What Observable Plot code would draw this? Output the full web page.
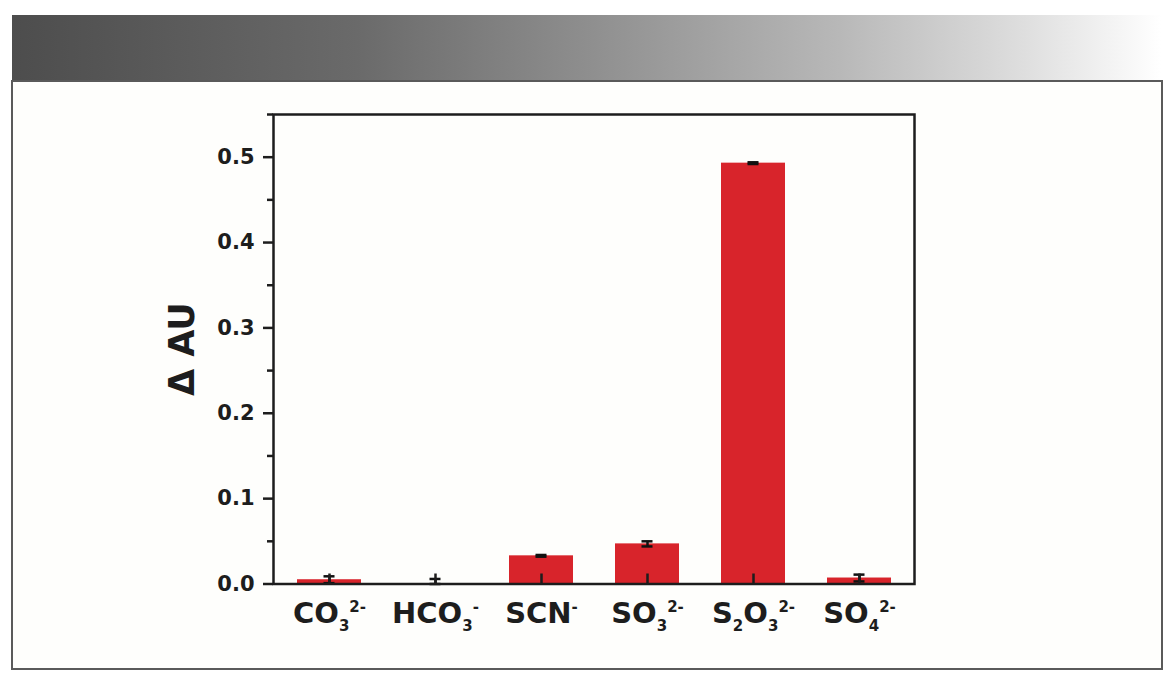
<!DOCTYPE html>
<html>
<head>
<meta charset="utf-8">
<script src="https://cdn.jsdelivr.net/npm/d3@7"></script>
<script src="https://cdn.jsdelivr.net/npm/@observablehq/plot@0.6"></script>
<style>
  html, body { margin: 0; padding: 0; background: #ffffff; }
  #page { position: relative; width: 1168px; height: 682px; overflow: hidden; background: #ffffff; }
  #header {
    position: absolute; left: 12px; top: 15px; width: 1149px; height: 65px;
    background: linear-gradient(to right, #4d4d4d 0%, #6a6a6a 30%, #8e8e8e 50%, #b8b8b8 72%, #dedede 88%, #ffffff 100%);
  }
  #box {
    position: absolute; left: 11px; top: 80px; width: 1148px; height: 586px;
    border: 2px solid #5a5a5a; background: #fefefc;
  }
  #chart { position: absolute; left: 0; top: 0; }
</style>
</head>
<body>
<div id="page">
  <div id="header"></div>
  <div id="box"></div>
  <div id="chart"></div>
</div>
<script>
// ---- Data ----
const categories = ["CO_3^2-", "HCO_3^-", "SCN^-", "SO_3^2-", "S_2O_3^2-", "SO_4^2-"];
const values = [0.005, 0.0004, 0.033, 0.047, 0.493, 0.007];
const errors = [0.004, 0.0055, 0.001, 0.003, 0.001, 0.004];
const majorTicks = [0.0, 0.1, 0.2, 0.3, 0.4, 0.5];
const minorTicks = [0.05, 0.15, 0.25, 0.35, 0.45, 0.55];
const yLabel = "Δ AU";

const data = categories.map((c, i) => ({ion: c, value: values[i], err: errors[i]}));

const ink = "#1d1d1d";
const font = "'DejaVu Sans', sans-serif";

const W = 1168, H = 682;
const mL = 273, mR = 254, mT = 114, mB = 98.5;
const frameH = H - mT - mB;

const chart = Plot.plot({
  width: W,
  height: H,
  marginLeft: mL,
  marginRight: mR,
  marginTop: mT,
  marginBottom: mB,
  style: {background: "transparent", fontFamily: font, fontWeight: "bold", color: ink, overflow: "visible"},
  x: {type: "band", domain: categories, padding: 0, axis: null},
  y: {domain: [0, 0.55], axis: null},
  marks: [
    Plot.barY(data, {x: "ion", y: "value", fill: "#d8242b", insetLeft: 21, insetRight: 21}),
    Plot.ruleX(data, {x: "ion", y1: d => Math.max(0, d.value - d.err), y2: d => d.value + d.err, stroke: "#111", strokeWidth: 2.5}),
    Plot.tickY(data, {x: "ion", y: d => d.value + d.err, stroke: "#111", strokeWidth: 2.5, insetLeft: 47.5, insetRight: 47.5}),
    Plot.tickY(data, {x: "ion", y: d => Math.max(0, d.value - d.err), stroke: "#111", strokeWidth: 2.5, insetLeft: 47.5, insetRight: 47.5}),
    Plot.tickX(categories, {x: d => d, stroke: ink, strokeWidth: 2.5, insetTop: frameH - 10}),
    Plot.axisY({ticks: majorTicks, tickSize: 10, tickPadding: 9, tickFormat: d3.format(".1f"), fontSize: 21, fontWeight: "bold", stroke: ink, strokeWidth: 2.5, fill: ink, label: null}),
    Plot.axisY({ticks: minorTicks, tickSize: 6, tickFormat: () => "", stroke: ink, strokeWidth: 2.5, label: null}),
    Plot.axisX({tickSize: 0, tickPadding: 18, fontSize: 29, fontWeight: "bold", fill: ink, label: null, tickFormat: d => d}),
    Plot.frame({stroke: ink, strokeWidth: 2.5}),
    Plot.text([yLabel], {frameAnchor: "left", textAnchor: "middle", dx: -91, rotate: -90, fontSize: 35, fontWeight: "bold", fill: ink})
  ]
});
document.getElementById("chart").appendChild(chart);

// Rebuild x tick labels with subscripts and superscripts
function parseLabel(s) {
  const parts = [];
  let i = 0;
  while (i < s.length) {
    const ch = s[i];
    if (ch === "_") { parts.push({t: s[i + 1], k: "sub"}); i += 2; }
    else if (ch === "^") { parts.push({t: s.slice(i + 1), k: "sup"}); break; }
    else {
      let j = i;
      while (j < s.length && s[j] !== "_" && s[j] !== "^") j++;
      parts.push({t: s.slice(i, j), k: "main"});
      i = j;
    }
  }
  return parts;
}
const offs = {main: 0, sub: 8.5, sup: -10.5};
d3.select(chart).selectAll('g[aria-label="x-axis tick label"] text').each(function() {
  const el = d3.select(this);
  const label = el.text();
  el.text("");
  let cur = 0;
  parseLabel(label).forEach(p => {
    const ts = el.append("tspan").text(p.t);
    const target = offs[p.k];
    const dy = target - cur;
    if (dy !== 0) ts.attr("dy", dy);
    cur = target;
    if (p.k !== "main") ts.attr("font-size", 15);
  });
});
</script>
</body>
</html>
